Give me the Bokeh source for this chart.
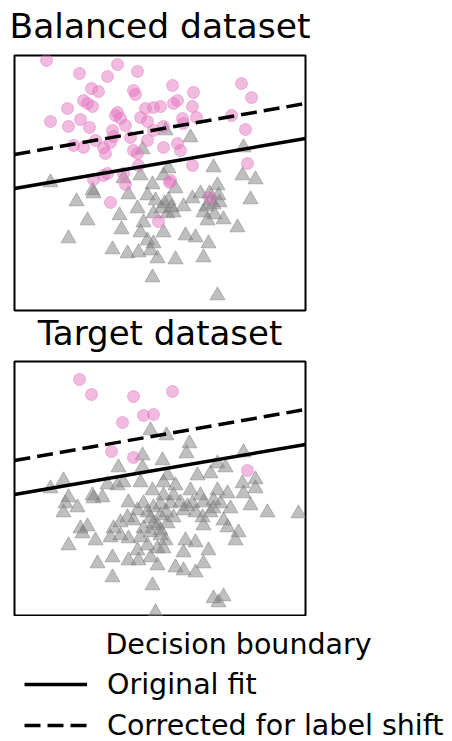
from bokeh.plotting import figure
from bokeh.layouts import column
from bokeh.models import Range1d, Legend, LegendItem, Label
from bokeh.embed import file_html
from bokeh.resources import INLINE

# ---------------- data (feature space units) ----------------
boundary_x = [0, 291]
original_fit_y = [122, 172]
corrected_fit_y = [156, 207]

bal_pos_x = [32, 65, 93, 103, 123, 77, 84, 119, 121, 158, 179, 227, 237, 69, 73, 78, 53,
             36, 54, 66, 75, 103, 101, 106, 111, 98, 99, 131, 139, 146, 159, 163, 178,
             126, 133, 149, 168, 169, 182, 217, 231, 59, 69, 81, 89, 91, 96, 116, 119,
             123, 139, 133, 149, 163, 166, 178, 233, 124, 93, 109, 156, 79, 89, 111, 155,
             96, 144, 195]
bal_pos_y = [250, 237, 234, 246, 239, 222, 219, 220, 216, 225, 218, 227, 213, 210, 207, 204, 202,
             189, 184, 191, 183, 198, 195, 192, 185, 180, 174, 202, 203, 204, 207, 210, 204,
             193, 189, 184, 192, 187, 193, 195, 181, 165, 163, 170, 163, 157, 168, 173, 160,
             157, 180, 170, 163, 167, 160, 145, 147, 145, 137, 137, 130, 131, 135, 126, 128,
             108, 89, 113]

bal_neg_x = [151, 176, 128, 229, 199, 154, 36, 126, 149, 228, 241, 78, 79, 62, 109, 114,
             138, 133, 141, 154, 161, 169, 178, 186, 196, 203, 204, 236, 123, 129, 139, 153,
             159, 105, 73, 189, 193, 209, 223, 107, 126, 149, 54, 133, 139, 171, 181, 194,
             98, 113, 124, 136, 143, 161, 189, 138, 203, 195, 199, 192, 205, 200, 150, 157, 147]
bal_neg_y = [180, 173, 161, 163, 143, 142, 128, 135, 135, 135, 131, 120, 117, 109, 132, 116,
             126, 115, 110, 110, 122, 104, 112, 117, 110, 125, 115, 111, 102, 88, 97, 97,
             98, 95, 90, 98, 90, 91, 83, 81, 78, 78, 72, 70, 67, 75, 73, 67,
             61, 57, 58, 60, 52, 51, 53, 33, 15, 117, 106, 104, 108, 96, 107, 103, 102]

tgt_pos_x = [65, 77, 119, 158, 108, 129, 139, 97, 119, 233]
tgt_pos_y = [237, 222, 220, 225, 194, 201, 202, 165, 159, 146]

tgt_neg_x = [136, 152, 175, 172, 128, 148, 104, 128, 203, 211, 229, 196, 183, 153, 241, 49,
             93, 109, 126, 149, 36, 54, 51, 63, 49, 78, 79, 88, 103, 138, 149, 161, 159,
             176, 186, 203, 213, 228, 241, 229, 236, 253, 284, 114, 129, 139, 156, 169, 178,
             189, 199, 216, 113, 119, 136, 146, 159, 188, 196, 209, 106, 99, 129, 143, 189,
             213, 224, 66, 73, 68, 96, 106, 114, 126, 146, 151, 171, 181, 221, 81, 54, 133,
             143, 149, 123, 194, 169, 98, 114, 124, 136, 83, 143, 161, 169, 181, 189, 98,
             138, 199, 204, 209, 141, 146, 152, 166, 173, 181, 199, 206, 133, 123, 139, 153,
             136, 146]
tgt_neg_y = [186, 181, 173, 163, 161, 156, 149, 149, 153, 149, 164, 143, 141, 141, 137, 136,
             132, 134, 134, 134, 128, 119, 113, 109, 104, 121, 118, 119, 131, 126, 121, 131, 121,
             126, 121, 126, 123, 133, 128, 123, 111, 104, 103, 114, 113, 109, 113, 106, 113,
             114, 108, 108, 99, 96, 98, 101, 99, 99, 104, 96, 94, 88, 88, 91, 91,
             89, 84, 88, 90, 83, 79, 81, 78, 79, 81, 76, 76, 74, 76, 76, 71, 71,
             68, 68, 66, 66, 64, 59, 56, 56, 59, 53, 51, 49, 46, 44, 53, 39,
             31, 18, 14, 20, 4, 112, 104, 114, 110, 104, 116, 113, 104, 106, 93, 93,
             84, 86]

titles = ["Balanced dataset", "Target dataset"]
legend_title = "Decision boundary"
legend_labels = ["Original fit", "Corrected for label shift"]

PINK = "#e377c2"
GRAY = "#7f7f7f"
FONT = "DejaVu Sans"
DASH = "16 7"


def panel(title, pos_x, pos_y, neg_x, neg_y, height, standoff, bottom, size, margin):
    p = figure(width=452, height=height, x_range=Range1d(0, 291), y_range=Range1d(0, 255),
               output_backend="svg", toolbar_location=None,
               x_axis_location=None, y_axis_location=None,
               min_border_left=14, min_border_right=147,
               min_border_top=0, min_border_bottom=bottom, margin=margin)
    p.xgrid.visible = False
    p.ygrid.visible = False
    p.outline_line_color = "black"
    p.outline_line_width = 2
    p.background_fill_color = "white"
    p.border_fill_alpha = 0
    p.title.text = title
    p.title.align = "center"
    p.title.text_font = FONT
    p.title.text_font_size = size
    p.title.text_font_style = "normal"
    p.title.text_color = "black"
    p.title.standoff = standoff
    p.scatter(neg_x, neg_y, marker="triangle", size=15, fill_color=GRAY, fill_alpha=0.5,
              line_color=GRAY, line_alpha=0.5, line_width=1)
    p.scatter(pos_x, pos_y, marker="circle", size=12, fill_color=PINK, fill_alpha=0.5,
              line_color=PINK, line_alpha=0.5, line_width=1)
    p.line(boundary_x, original_fit_y, line_color="black", line_width=3.5)
    p.line(boundary_x, corrected_fit_y, line_color="black", line_width=3.5, line_dash=DASH)
    return p


# title panel is ~42px + standoff; negative top margins pull the figures up
p1 = panel(titles[0], bal_pos_x, bal_pos_y, bal_neg_x, bal_neg_y, 318, 19, 2, "34.5px",
           (-6, 0, 0, 0))
p2 = panel(titles[1], tgt_pos_x, tgt_pos_y, tgt_neg_x, tgt_neg_y, 315, 18, 0, "34px",
           (-11, 0, 0, 0))

# legend figure (separate root so its frame is not aligned with the panels)
p3 = figure(width=452, height=125, x_range=Range1d(0, 452), y_range=Range1d(0, 125),
            output_backend="svg", toolbar_location=None,
            x_axis_location=None, y_axis_location=None,
            min_border_left=0, min_border_right=0, min_border_top=0, min_border_bottom=0)
p3.xgrid.visible = False
p3.ygrid.visible = False
p3.outline_line_color = None
p3.background_fill_color = "white"
p3.border_fill_color = "white"
r_solid = p3.line([-10], [-10], line_color="black", line_width=3.5)
r_dash = p3.line([-10], [-10], line_color="black", line_width=3.5, line_dash=DASH)
leg = Legend(items=[LegendItem(label=legend_labels[0], renderers=[r_solid]),
                    LegendItem(label=legend_labels[1], renderers=[r_dash])],
             location=(24, -1), glyph_width=63, glyph_height=34, label_standoff=20,
             label_text_font=FONT, label_text_font_size="28.5px", label_text_color="black",
             spacing=7, padding=0, margin=0, border_line_alpha=0, background_fill_alpha=0)
p3.add_layout(leg, "center")
p3.add_layout(Label(x=238, y=97, x_units="screen", y_units="screen", text=legend_title,
                    text_align="center", text_baseline="alphabetic", text_font=FONT,
                    text_font_size="28.5px", text_color="black"))

layout = column(p1, p2, spacing=0)
open("out.html", "w").write(file_html([layout, p3], INLINE))
